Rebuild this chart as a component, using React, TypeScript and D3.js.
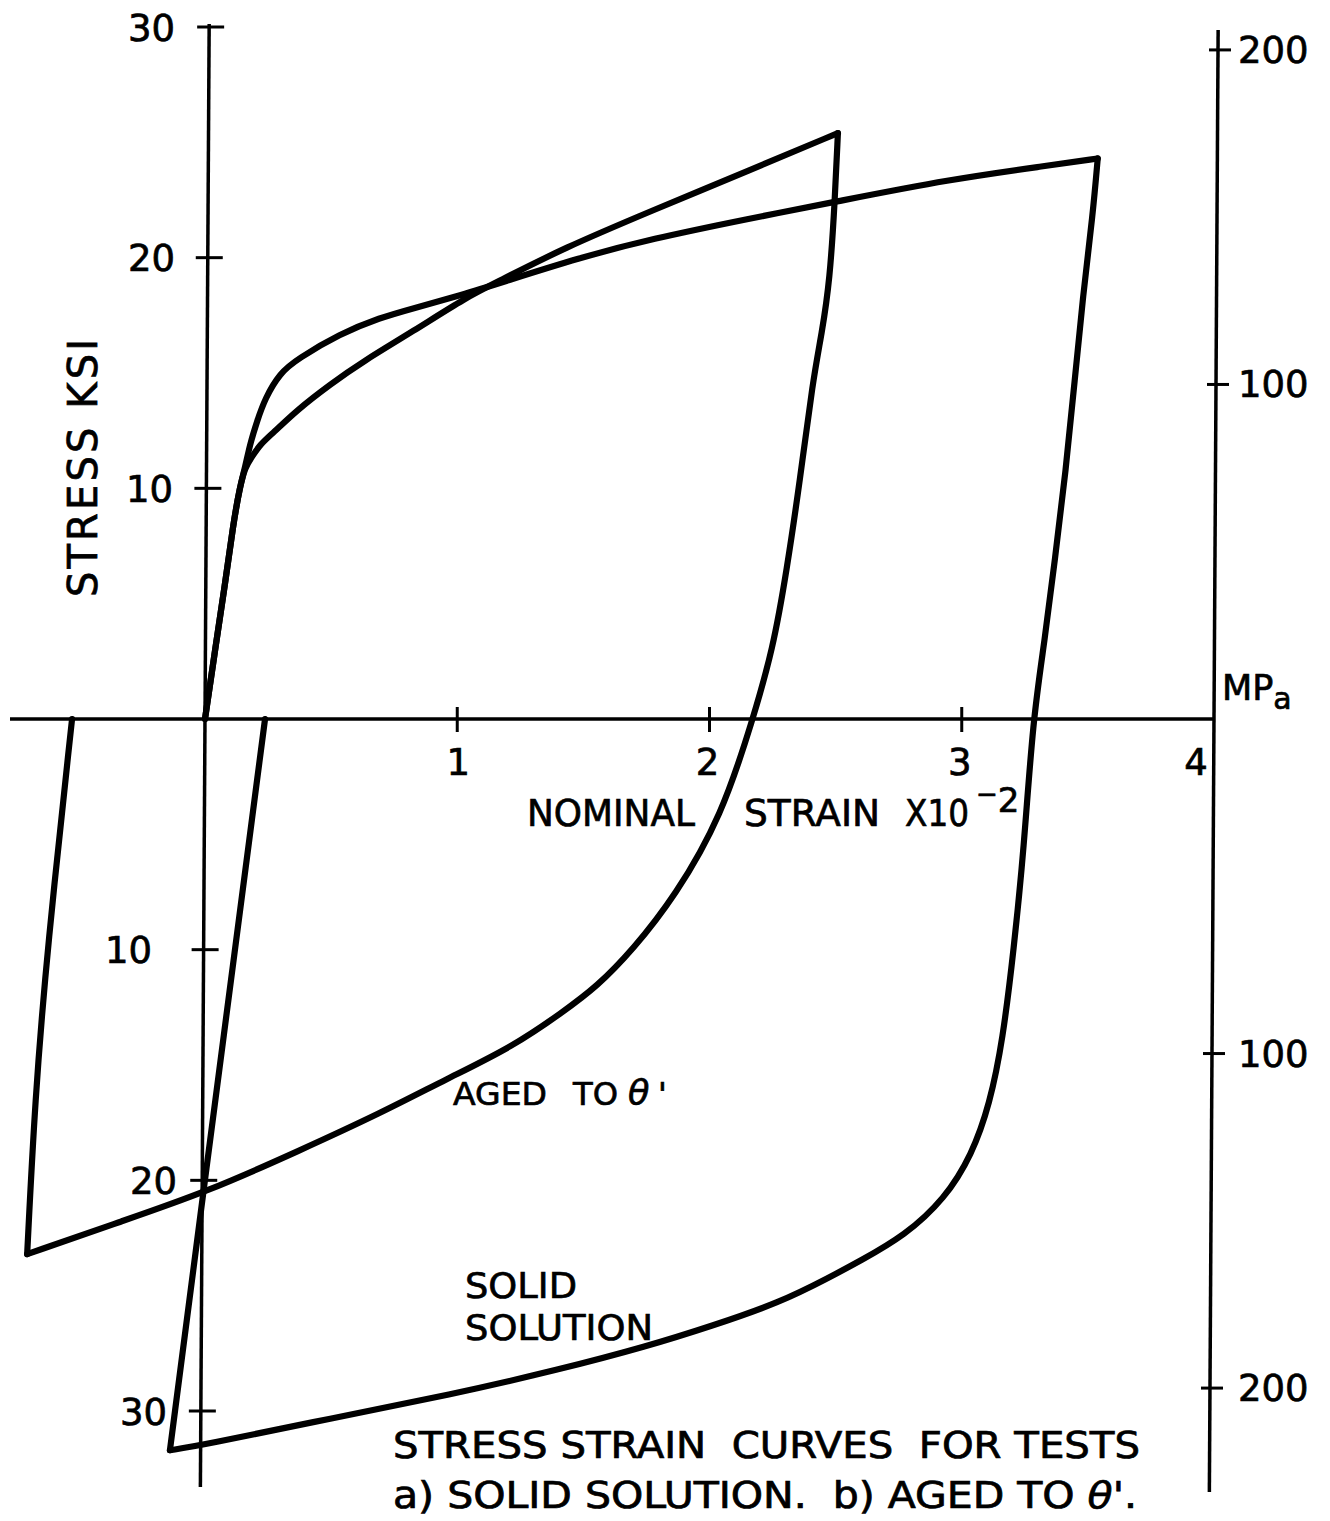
import React from 'react';
import * as d3 from 'd3';

// ---- data (strain in 1e-2, stress in ksi) ----
const strainTicks = [1, 2, 3, 4];
const ksiTicks = [30, 20, 10, -10, -20, -30];
const mpaTicks = [200, 100, -100, -200];
const MPA_PER_KSI = 6.895;

const solidLoading: [number, number][] = [
  [0, 0], [0.04, 3.0], [0.079, 5.8], [0.111, 8.4], [0.139, 10.1], [0.159, 10.9],
  [0.178, 11.9], [0.206, 12.9], [0.238, 13.9], [0.297, 15.0], [0.365, 15.6],
  [0.535, 16.7], [0.694, 17.4], [0.824, 17.8], [1.023, 18.4], [1.169, 18.9],
  [1.486, 20.0], [1.764, 20.8], [2.16, 21.7], [2.489, 22.4], [2.953, 23.4],
  [3.349, 24.0], [3.539, 24.3],
];
const solidUnloading: [number, number][] = [
  [3.539, 24.3], [3.52, 21.9], [3.48, 18.3], [3.448, 14.7], [3.413, 10.8],
  [3.369, 6.9], [3.329, 3.4], [3.282, 0], [3.246, -5.7], [3.206, -10.0],
  [3.163, -13.9], [3.111, -16.7], [3.04, -18.9], [2.933, -20.8], [2.774, -22.4],
  [2.596, -23.5], [2.477, -24.2], [2.279, -25.3], [2.013, -26.3], [1.752, -27.2],
  [1.407, -28.2], [0.971, -29.3], [0.507, -30.3], [-0.02, -31.5], [-0.139, -31.7],
];
const solidReloading: [number, number][] = [
  [-0.139, -31.7], [-0.016, -21.3], [0.238, 0],
];
const agedLoading: [number, number][] = [
  [0, 0], [0.04, 3.0], [0.079, 5.8], [0.111, 8.4], [0.139, 10.1], [0.159, 10.9],
  [0.182, 11.3], [0.218, 11.9], [0.27, 12.4], [0.365, 13.4], [0.495, 14.5],
  [0.626, 15.5], [0.824, 16.8], [1.038, 18.3], [1.169, 19.0], [1.419, 20.4],
  [1.764, 22.0], [2.16, 23.8], [2.509, 25.4],
];
const agedUnloading: [number, number][] = [
  [2.509, 25.4], [2.497, 22.5], [2.477, 19.0], [2.445, 16.7], [2.41, 14.7],
  [2.358, 10.3], [2.307, 6.5], [2.251, 3.0], [2.172, 0], [2.049, -4.2],
  [1.863, -7.7], [1.696, -10.0], [1.554, -11.6], [1.419, -12.7], [1.221, -14.2],
  [0.959, -15.6], [0.694, -17.1], [0.377, -18.7], [0.008, -20.5], [-0.337, -21.8],
  [-0.705, -23.2],
];
const agedReloading: [number, number][] = [
  [-0.705, -23.2], [-0.674, -16.5], [-0.626, -10.0], [-0.527, 0],
];

const branches = [solidLoading, solidUnloading, solidReloading, agedLoading, agedUnloading, agedReloading];

// ---- layout ----
const W = 1330, H = 1521;
const x = d3.scaleLinear().domain([0, 4]).range([205, 1214]);
const y = d3.scaleLinear().domain([-30, 30]).range([1411, 27]);
const FONT = '"DejaVu Sans", "Liberation Sans", sans-serif';
const COND = '"DejaVu Sans Condensed", "Liberation Sans Narrow", "DejaVu Sans", sans-serif';
const TILT = 0.006;
const leftAxisX = (py: number) => x(0) + (y(0) - py) * TILT;
const rightAxisX = (py: number) => x(4) + (y(0) - py) * TILT;

const leftLabelRight: Record<number, number> = { 30: 175, 20: 175, 10: 173, [-10]: 152, [-20]: 177, [-30]: 167 };
const xLabelShift: Record<number, number> = { 1: 1, 2: -2, 3: -2, 4: -18 };

export default function App() {
  const line = d3.line<[number, number]>()
    .x(d => x(d[0]))
    .y(d => y(d[1]))
    .curve(d3.curveBasis);

  const y0 = y(0);
  const topY = 24, botY = 1487;
  const rTop = 30, rBot = 1492;

  return (
    <svg width={W} height={H} viewBox={`0 0 ${W} ${H}`}
      style={{ position: 'absolute', left: 0, top: 0, background: '#fff' }}
      fontFamily={FONT}>
      <rect x={0} y={0} width={W} height={H} fill="#fff" />
      {/* x axis */}
      <line x1={10} y1={y0} x2={x(4)} y2={y0} stroke="#000" strokeWidth={3.5} />
      {strainTicks.filter(t => t < 4).map(t => (
        <line key={'xt' + t} x1={x(t)} x2={x(t)} y1={y0 - 12} y2={y0 + 13} stroke="#000" strokeWidth={3} />
      ))}
      {/* left axis */}
      <line x1={leftAxisX(topY)} y1={topY} x2={leftAxisX(botY)} y2={botY} stroke="#000" strokeWidth={3.5} />
      {ksiTicks.map(t => {
        const py = y(t);
        const ax = leftAxisX(py);
        return <line key={'lt' + t} x1={ax - 12} x2={ax + 15} y1={py} y2={py} stroke="#000" strokeWidth={3} />;
      })}
      {/* right axis */}
      <line x1={rightAxisX(rTop)} y1={rTop} x2={rightAxisX(rBot)} y2={rBot} stroke="#000" strokeWidth={3.5} />
      {mpaTicks.map(m => {
        const py = y(m / MPA_PER_KSI);
        const ax = rightAxisX(py);
        return <line key={'rt' + m} x1={ax - 9} x2={ax + 13} y1={py} y2={py} stroke="#000" strokeWidth={3} />;
      })}

      {/* curves */}
      {branches.map((b, i) => (
        <path key={'c' + i} d={line(b) || ''} fill="none" stroke="#000" strokeWidth={6.2}
          strokeLinejoin="round" strokeLinecap="round" />
      ))}

      <g fill="#000" stroke="#000" strokeWidth={0.7}>
        {strainTicks.map(t => (
          <text key={'xl' + t} x={x(t) + xLabelShift[t]} y={775} fontSize={37} textAnchor="middle">{t}</text>
        ))}
        {ksiTicks.map(t => (
          <text key={'ll' + t} x={leftLabelRight[t]} y={y(t) + 13.5} fontSize={37} textAnchor="end">{Math.abs(t)}</text>
        ))}
        {mpaTicks.map(m => (
          <text key={'rl' + m} x={1238} y={y(m / MPA_PER_KSI) + 13} fontSize={37}>{Math.abs(m)}</text>
        ))}
        <text x={1222} y={700} fontSize={35}>MP<tspan fontSize={30} dy={9}>a</tspan></text>

        {/* axis titles */}
        <text transform="translate(97,468) rotate(-90)" fontSize={40} textAnchor="middle"
          textLength={258} lengthAdjust="spacing">STRESS KSI</text>
        <text x={527} y={826} fontSize={37} textLength={168} lengthAdjust="spacingAndGlyphs">NOMINAL</text>
        <text x={744} y={826} fontSize={37} textLength={136} lengthAdjust="spacingAndGlyphs">STRAIN</text>
        <text x={905} y={826} fontSize={37} textLength={64} lengthAdjust="spacingAndGlyphs">X10</text>
        <text x={976} y={812}><tspan fontSize={26} dy={-9}>−</tspan><tspan fontSize={34} dy={9}>2</tspan></text>

        {/* curve labels */}
        <text y={1105} fontSize={32}>
          <tspan x={453} textLength={94} lengthAdjust="spacingAndGlyphs">AGED</tspan>
          <tspan x={573} textLength={45} lengthAdjust="spacingAndGlyphs">TO</tspan>
          <tspan x={628} fontStyle="italic" fontSize={35}>θ</tspan>
          <tspan x={658}>'</tspan>
        </text>
        <text x={465} y={1298} fontSize={35} textLength={112} lengthAdjust="spacingAndGlyphs">SOLID</text>
        <text x={465} y={1340} fontSize={35} textLength={188} lengthAdjust="spacingAndGlyphs">SOLUTION</text>

        {/* caption */}
        <text x={393} y={1458} fontSize={38} fontFamily={COND} textLength={747} lengthAdjust="spacingAndGlyphs"
          style={{ whiteSpace: 'pre' }}>{'STRESS STRAIN  CURVES  FOR TESTS'}</text>
        <text x={393} y={1508} fontSize={38} fontFamily={COND} textLength={744} lengthAdjust="spacingAndGlyphs"
          style={{ whiteSpace: 'pre' }}>{"a) SOLID SOLUTION.  b) AGED TO "}<tspan fontStyle="italic">θ</tspan>{"'."}</text>
      </g>
    </svg>
  );
}
